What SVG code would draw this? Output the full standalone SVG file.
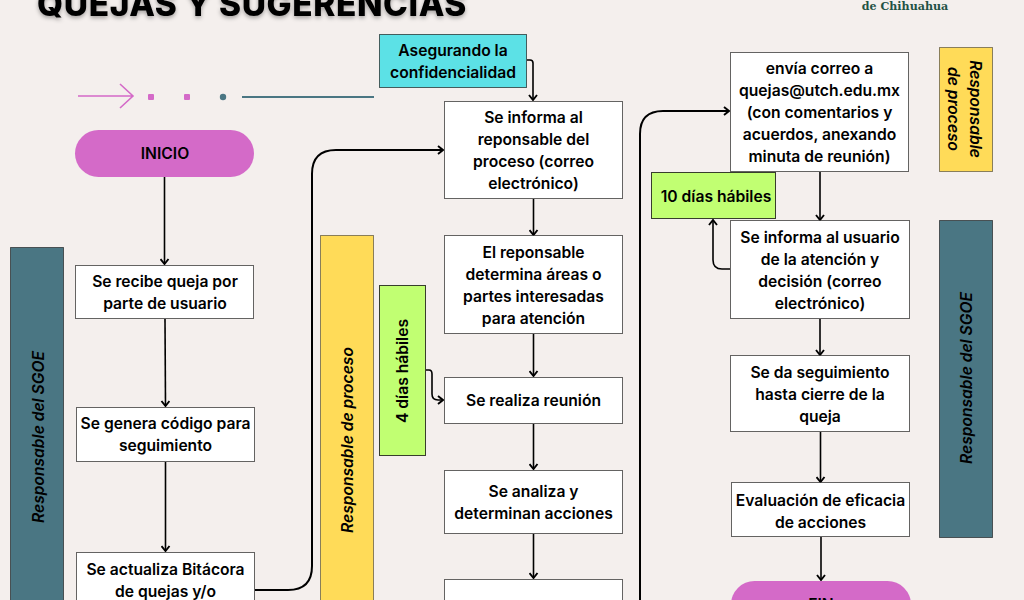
<svg xmlns="http://www.w3.org/2000/svg" width="1024" height="600" viewBox="0 0 1024 600">
<defs>
<marker id="a" viewBox="0 0 10 10" refX="8.6" refY="5" markerWidth="10" markerHeight="10" markerUnits="userSpaceOnUse" orient="auto"><path d="M3.6 1 L8.6 5 L3.6 9" fill="none" stroke="#000" stroke-width="1.9"/></marker>
<filter id="s" x="-5%" y="-20%" width="110%" height="150%"><feDropShadow dx="0" dy="2" stdDeviation="2" flood-color="#000" flood-opacity=".35"/></filter>
</defs>
<style>
text{font-family:Inter,"Noto Sans","Liberation Sans",sans-serif;font-weight:600;font-size:15.65px;fill:#000;text-anchor:middle}
.b{fill:#fff;stroke:#000;stroke-opacity:.6;stroke-width:1}
.p{fill:#d46ac8}
.y{fill:#ffdb58;stroke:#000;stroke-opacity:.45}
.t{fill:#4a7683;stroke:#000;stroke-opacity:.55}
.g{fill:#c1ff72;stroke:#000;stroke-opacity:.75}
.i{font-style:italic;font-size:15.6px}
.c path{fill:none;stroke:#000;stroke-width:1.6;marker-end:url(#a)}
.c path.w{stroke-width:2}
</style>
<rect width="1024" height="600" fill="#f4efed"/>
<text x="252" y="16" filter="url(#s)" style="font-family:Inter,sans-serif;font-weight:800;font-size:33.400px;letter-spacing:.6px">QUEJAS Y SUGERENCIAS</text>
<text x="905" y="9.500" style="font-family:'DejaVu Serif',serif;font-weight:700;font-size:11.100px;fill:#1f5245">de Chihuahua</text>
<g id="decor">
<path d="M78 96H133M120 84L133 96L120 108" fill="none" stroke="#d46ac8" stroke-width="1.6"/>
<rect x="148" y="94" width="6" height="6" rx="1" fill="#d46ac8"/><rect x="184" y="94" width="6" height="6" rx="1" fill="#d46ac8"/><circle cx="223" cy="97" r="3.200" fill="#4a7683"/>
<path d="M242 97H374" stroke="#4a7683" stroke-width="2" fill="none"/>
</g>
<g id="connectors" class="c">
<path d="M164.500 177V264"/>
<path d="M165 319L165.500 406"/>
<path d="M165.500 462V551"/>
<path class="w" d="M255 590H288Q312 590 312 566V174Q312 150 336 150H443"/>
<path d="M527 60H530Q533 60 533 63V100"/>
<path d="M533.500 199V235"/>
<path d="M533.500 334V376"/>
<path d="M533.500 424V469"/>
<path d="M533.500 534V578"/>
<path d="M426 370H429Q432 370 432 374V394Q432 400 438 400H443"/>
<path class="w" d="M640 600V134Q640 111 663 111H729"/>
<path d="M820 172V220"/>
<path d="M820 319V355"/>
<path d="M820.500 432V482"/>
<path d="M821 537V580"/>
<path d="M730 269H722Q713 269 713 260V220"/>
</g>
<g id="n-inicio"><rect class="p" x="75" y="130" width="179" height="47" rx="23.500"/><text x="165" y="159">INICIO</text></g>
<g id="n-recibe"><rect class="b" x="75.500" y="265.500" width="178" height="53"/><text x="165" y="287">Se recibe queja por</text><text x="165" y="309">parte de usuario</text></g>
<g id="n-genera"><rect class="b" x="76.500" y="407.500" width="178" height="54"/><text x="165.500" y="429">Se genera código para</text><text x="165.500" y="451">seguimiento</text></g>
<g id="n-actualiza"><rect class="b" x="76.500" y="552.500" width="178" height="60"/><text x="165.500" y="575">Se actualiza Bitácora</text><text x="165.500" y="597">de quejas y/o</text></g>
<g id="r-sgoe1"><rect class="t" x="10.500" y="247.500" width="53" height="370"/><text class="i" transform="translate(44 437) rotate(-90)">Responsable del SGOE</text></g>
<g id="r-proceso1"><rect class="y" x="320.500" y="235.500" width="53" height="380"/><text class="i" transform="translate(353 440) rotate(-90)">Responsable de proceso</text></g>
<g id="t-4dias"><rect class="g" x="379.500" y="285.500" width="46" height="170"/><text transform="translate(408 371) rotate(-90)">4 días hábiles</text></g>
<g id="t-conf"><rect fill="#5ce1e6" stroke="#000" stroke-opacity=".6" x="379.500" y="34.500" width="147" height="53"/><text x="453" y="56">Asegurando la</text><text x="453" y="78">confidencialidad</text></g>
<g id="n-informa"><rect class="b" x="444.500" y="101.500" width="178" height="97"/><text x="533.500" y="123">Se informa al</text><text x="533.500" y="145">reponsable del</text><text x="533.500" y="167">proceso (correo</text><text x="533.500" y="189">electrónico)</text></g>
<g id="n-determina"><rect class="b" x="444.500" y="235.500" width="178" height="98"/><text x="533.500" y="258">El reponsable</text><text x="533.500" y="280">determina áreas o</text><text x="533.500" y="302">partes interesadas</text><text x="533.500" y="324">para atención</text></g>
<g id="n-reunion"><rect class="b" x="444.500" y="377.500" width="178" height="46"/><text x="533.500" y="406">Se realiza reunión</text></g>
<g id="n-analiza"><rect class="b" x="444.500" y="470.500" width="178" height="63"/><text x="533.500" y="497">Se analiza y</text><text x="533.500" y="519">determinan acciones</text></g>
<g id="n-siguiente"><rect class="b" x="444.500" y="579.500" width="178" height="40"/></g>
<g id="n-correo"><rect class="b" x="730.500" y="52.500" width="178" height="119"/><text x="819.500" y="74">envía correo a</text><text x="819.500" y="96">quejas@utch.edu.mx</text><text x="819.500" y="118">(con comentarios y</text><text x="819.500" y="140">acuerdos, anexando</text><text x="819.500" y="162">minuta de reunión)</text></g>
<g id="t-10dias"><rect class="g" x="651.500" y="172.500" width="124" height="46"/><text x="716" y="202">10 días hábiles</text></g>
<g id="n-usuario"><rect class="b" x="730.500" y="220.500" width="179" height="98"/><text x="820" y="243">Se informa al usuario</text><text x="820" y="265">de la atención y</text><text x="820" y="287">decisión (correo</text><text x="820" y="309">electrónico)</text></g>
<g id="n-seguimiento"><rect class="b" x="730.500" y="355.500" width="179" height="76"/><text x="820" y="378">Se da seguimiento</text><text x="820" y="400">hasta cierre de la</text><text x="820" y="422">queja</text></g>
<g id="n-eval"><rect class="b" x="731.500" y="482.500" width="178" height="54"/><text x="820.500" y="506">Evaluación de eficacia</text><text x="820.500" y="528">de acciones</text></g>
<g id="n-fin"><rect class="p" x="731" y="581" width="180" height="47" rx="23.500"/><text x="821" y="610">FIN</text></g>
<g id="r-proceso2"><rect class="y" x="939.500" y="47.500" width="53" height="124"/><text class="i" transform="translate(970 109) rotate(90)">Responsable</text><text class="i" transform="translate(948 109) rotate(90)">de proceso</text></g>
<g id="r-sgoe2"><rect class="t" x="939.500" y="220.500" width="53" height="317"/><text class="i" transform="translate(972 378) rotate(-90)">Responsable del SGOE</text></g>
</svg>
